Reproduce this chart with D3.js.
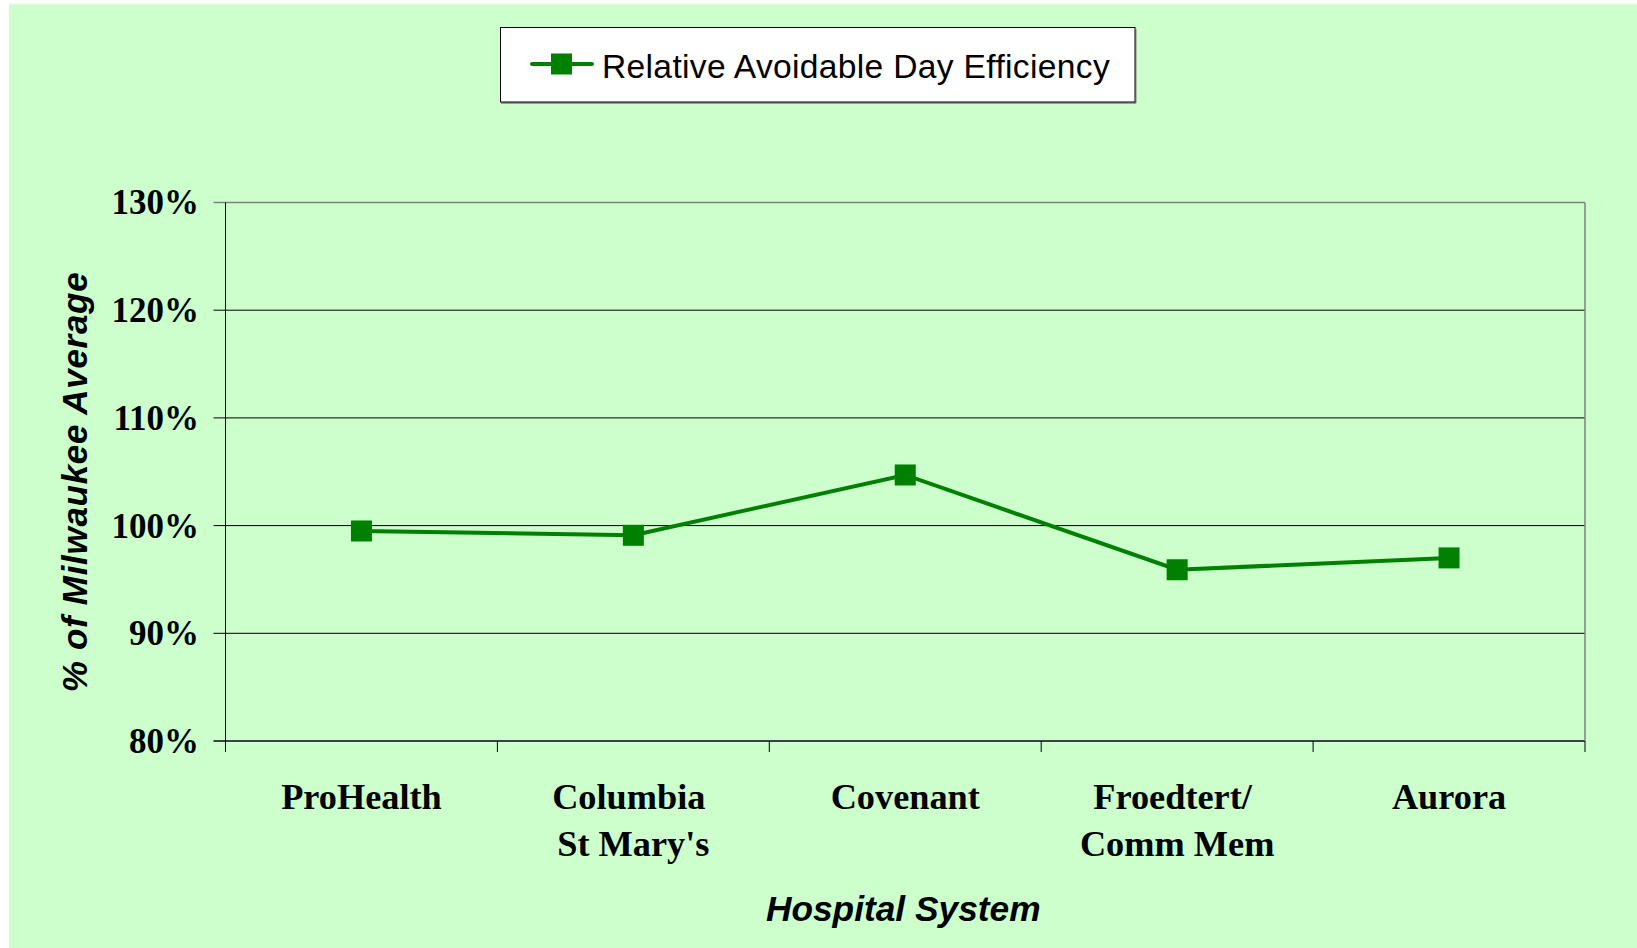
<!DOCTYPE html>
<html>
<head>
<meta charset="utf-8">
<script src="https://cdn.jsdelivr.net/npm/d3@7"></script>
<style>
  html, body { margin: 0; padding: 0; background: #ffffff; }
  svg { display: block; }
  .cat tspan { white-space: pre; }
</style>
</head>
<body>
<svg id="chart" width="1637" height="948"></svg>
<script>
// ---- data ----
const categories = [["ProHealth"], ["Columbia ", "St Mary's"], ["Covenant"], ["Froedtert/ ", "Comm Mem"], ["Aurora"]];
const seriesName = "Relative Avoidable Day Efficiency";
const values = [99.5, 99.1, 104.7, 95.9, 97.0];
const yTicks = [80, 90, 100, 110, 120, 130];
const yTitle = "% of Milwaukee Average";
const xTitle = "Hospital System";

// ---- layout ----
const W = 1637, H = 948;
const plot = { left: 225.5, right: 1585, top: 202.5, bottom: 741 };
const green = "#008000";

const svg = d3.select("#chart");

svg.append("rect").attr("x", 9).attr("y", 4).attr("width", W - 9).attr("height", H - 4)
  .attr("fill", "#CCFFCC");

const x = d3.scaleBand().domain(d3.range(categories.length)).range([plot.left, plot.right]).padding(0);
const y = d3.scaleLinear().domain([80, 130]).range([plot.bottom, plot.top]);

// gridlines
const g = svg.append("g");
g.selectAll("line.grid").data(yTicks).join("line")
  .attr("class", "grid")
  .attr("x1", plot.left - 12).attr("x2", plot.right)
  .attr("y1", d => y(d)).attr("y2", d => y(d))
  .attr("stroke", d => d === 130 ? "#808080" : (d === 80 ? "#404040" : "#000000"))
  .attr("stroke-width", d => d === 80 ? 2 : (d === 130 ? 1.5 : 1));

// right border
g.append("line").attr("x1", plot.right).attr("x2", plot.right)
  .attr("y1", plot.top).attr("y2", plot.bottom)
  .attr("stroke", "#808080").attr("stroke-width", 1.5);

// left axis
g.append("line").attr("x1", plot.left).attr("x2", plot.left)
  .attr("y1", plot.top).attr("y2", plot.bottom + 11)
  .attr("stroke", "#000").attr("stroke-width", 1);

// x ticks at band boundaries
const bounds = categories.map((c, i) => x(i)).concat([x(categories.length - 1) + x.bandwidth()]);
g.selectAll("line.xt").data(bounds.slice(1)).join("line")
  .attr("class", "xt")
  .attr("x1", d => d).attr("x2", d => d)
  .attr("y1", plot.bottom).attr("y2", plot.bottom + 11)
  .attr("stroke", "#000").attr("stroke-width", 1);

// y tick labels
svg.append("g").selectAll("text").data(yTicks).join("text")
  .attr("x", 199).attr("y", d => y(d)).attr("dy", "0.34em")
  .attr("text-anchor", "end")
  .attr("font-family", "'Liberation Serif', 'Times New Roman', serif")
  .attr("font-weight", "bold").attr("font-size", 35)
  .text(d => d + "%");

// x category labels
const xl = svg.append("g").selectAll("text").data(categories).join("text")
  .attr("class", "cat")
  .attr("text-anchor", "middle")
  .attr("font-family", "'Liberation Serif', 'Times New Roman', serif")
  .attr("font-weight", "bold").attr("font-size", 36.3);
xl.each(function(lines, i) {
  const t = d3.select(this);
  lines.forEach((ln, j) => {
    t.append("tspan").attr("x", x(i) + x.bandwidth() / 2).attr("y", 809 + j * 47).text(ln);
  });
});

// axis titles
svg.append("text")
  .attr("x", (plot.left + plot.right) / 2 - 2).attr("y", 921)
  .attr("text-anchor", "middle")
  .attr("font-family", "'Liberation Sans', Arial, sans-serif")
  .attr("font-weight", "bold").attr("font-style", "italic").attr("font-size", 35.3)
  .text(xTitle);

svg.append("text")
  .attr("transform", "translate(86.5,482) rotate(-90)")
  .attr("text-anchor", "middle")
  .attr("font-family", "'Liberation Sans', Arial, sans-serif")
  .attr("font-weight", "bold").attr("font-style", "italic").attr("font-size", 35)
  .attr("letter-spacing", 0.7)
  .text(yTitle);

// series line
const line = d3.line().x((d, i) => x(i) + x.bandwidth() / 2).y(d => y(d));
svg.append("path").datum(values).attr("d", line)
  .attr("fill", "none").attr("stroke", green).attr("stroke-width", 4)
  .attr("stroke-linejoin", "miter");

svg.append("g").selectAll("rect").data(values).join("rect")
  .attr("x", (d, i) => x(i) + x.bandwidth() / 2 - 10.5)
  .attr("y", d => y(d) - 10.5)
  .attr("width", 21).attr("height", 21)
  .attr("fill", green);

// legend
const lg = svg.append("g");
lg.append("line").attr("x1", 501).attr("x2", 1136).attr("y1", 103).attr("y2", 103)
  .attr("stroke", "#808080").attr("stroke-width", 1.5);
lg.append("line").attr("x1", 1136).attr("x2", 1136).attr("y1", 29).attr("y2", 103)
  .attr("stroke", "#808080").attr("stroke-width", 1);
lg.append("rect").attr("x", 500.5).attr("y", 27.5).attr("width", 634.5).attr("height", 74.5)
  .attr("fill", "#ffffff").attr("stroke", "#000").attr("stroke-width", 1);
lg.append("line").attr("x1", 532).attr("x2", 592).attr("y1", 64).attr("y2", 64)
  .attr("stroke", green).attr("stroke-width", 4).attr("stroke-linecap", "round");
lg.append("rect").attr("x", 551).attr("y", 53.5).attr("width", 21).attr("height", 21)
  .attr("fill", green);
lg.append("text").attr("x", 602).attr("y", 77.5)
  .attr("font-family", "'Liberation Sans', Arial, sans-serif")
  .attr("font-size", 33.6).attr("letter-spacing", 0.33)
  .text(seriesName);
</script>
</body>
</html>
